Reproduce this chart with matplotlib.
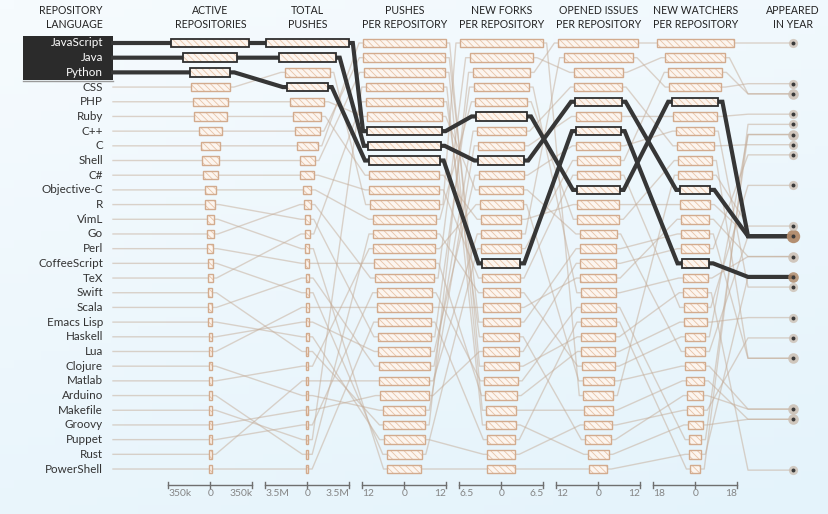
import numpy as np
import matplotlib
matplotlib.use("Agg")
import matplotlib.pyplot as plt
from matplotlib.patches import Rectangle

plt.rcParams['font.family'] = ['Lato', 'DejaVu Sans']
plt.rcParams['hatch.linewidth'] = 0.6

# ---- data ----
languages = ["JavaScript", "Java", "Python", "CSS", "PHP", "Ruby", "C++", "C", "Shell", "C#",
             "Objective-C", "R", "VimL", "Go", "Perl", "CoffeeScript", "TeX", "Swift", "Scala",
             "Emacs Lisp", "Haskell", "Lua", "Clojure", "Matlab", "Arduino", "Makefile", "Groovy",
             "Puppet", "Rust", "PowerShell"]
active_repos = [325, 225, 167, 164, 146, 137, 96, 79, 71, 62,
                46, 42, 30, 29, 25, 19, 18.5, 18, 17.5,
                17, 14, 13.5, 13.2, 13, 12.8, 12.6, 12.4,
                12.2, 12, 11.8]  # thousands
total_pushes = [3.46, 2.37, 1.71, 1.87, 1.42, 1.17, 1.04, 0.875, 0.625, 0.58,
                0.33, 0.21, 0.17, 0.29, 0.15, 0.145, 0.205, 0.1, 0.148,
                0.108, 0.11, 0.125, 0.09, 0.098, 0.075, 0.08, 0.088,
                0.085, 0.095, 0.07]  # millions
pushes_per_repo = [10.65, 10.4, 10.1, 9.9, 10.7, 10.05, 11.7, 11.8, 11.6, 10.0,
                   9.0, 7.55, 4.8, 8.5, 8.7, 5.0, 10.95, 5.95, 7.35,
                   5.9, 7.4, 7.85, 6.0, 8.9, 8.95, 11.0, 7.05,
                   7.9, 7.1, 7.6]
forks_per_repo = [3.98, 3.54, 2.92, 6.4, 3.4, 3.12, 2.88, 2.75, 2.32, 2.91,
                  4.0, 4.3, 2.14, 4.9, 2.45, 3.08, 2.77, 4.45, 3.75,
                  2.15, 3.45, 2.89, 3.56, 3.3, 2.9, 2.3, 2.76,
                  2.6, 3.1, 2.16]
issues_per_repo = [6.1, 6.65, 6.4, 4.3, 5.25, 6.05, 5.2, 4.85, 4.1, 6.15,
                   6.0, 5.0, 2.6, 7.0, 4.8, 6.2, 3.7, 11.4, 6.8,
                   4.0, 6.25, 5.1, 6.5, 4.45, 4.75, 3.0, 5.15,
                   4.98, 9.9, 4.96]
watchers_per_repo = [9.9, 6.45, 5.9, 7.25, 4.3, 6.4, 6.0, 5.15, 3.85, 4.92,
                     7.3, 5.4, 2.6, 12.9, 4.9, 11.6, 3.42, 16.6, 7.9,
                     3.4, 8.1, 6.05, 9.4, 4.28, 4.32, 3.2, 5.95,
                     2.62, 11.2, 2.1]
appeared_year = [1995, 1995, 1991, 1996, 1995, 1995, 1983, 1972, 1977, 2000,
                 1983, 1993, 1991, 2009, 1987, 2009, 1978, 2014, 2004,
                 1985, 1990, 1993, 2007, 1978, 2005, 1977, 2003,
                 2005, 2010, 2006]
highlight = ["JavaScript", "Java", "Python"]

col_titles = [("ACTIVE", "REPOSITORIES"), ("TOTAL", "PUSHES"), ("PUSHES", "PER REPOSITORY"),
              ("NEW FORKS", "PER REPOSITORY"), ("OPENED ISSUES", "PER REPOSITORY"),
              ("NEW WATCHERS", "PER REPOSITORY")]
col_values = [active_repos, total_pushes, pushes_per_repo, forks_per_repo,
              issues_per_repo, watchers_per_repo]
col_tick = [350, 3.5, 12, 6.5, 12, 18]
col_tick_labels = ["350k", "3.5M", "12", "6.5", "12", "18"]

# ---- layout (pixels) ----
W, H = 829, 514
col_x = [210.3, 307.3, 404.3, 501.3, 598.3, 695.3]
half = 42.0
row0, step = 43.0, 14.69
bar_h = 8.5
stub = 4.0
join_x, year_x = 748.0, 793.0
label_x, line_x0 = 103.0, 113.0
y_2014, px_year = 43.0, 10.17

fig = plt.figure(figsize=(W / 100, H / 100), dpi=100)
ax = fig.add_axes([0, 0, 1, 1])
ax.set_xlim(0, W)
ax.set_ylim(H, 0)
ax.axis('off')

# background gradient
gy, gx = np.mgrid[0:1:60j, 0:1:60j]
top = np.array([246, 251, 254]) / 255
bot = np.array([228, 243, 251]) / 255
t = (0.7 * gy + 0.3 * gx)[..., None]
ax.imshow(top * (1 - t) + bot * t, extent=(0, W, H, 0), aspect='auto', zorder=0)

n = len(languages)
ranks = []
for vals in col_values:
    order = sorted(range(n), key=lambda i: -vals[i])
    r = [0] * n
    for k, i in enumerate(order):
        r[i] = k
    ranks.append(r)

def bar_edges(c, i):
    w = col_values[c][i] * half / col_tick[c]
    return col_x[c] - w, col_x[c] + w

# connecting lines
for i, lang in enumerate(languages):
    hl = lang in highlight
    ys = [row0 + ranks[c][i] * step for c in range(6)]
    yr = y_2014 + (2014 - appeared_year[i]) * px_year
    pts = [(line_x0, ys[0])]
    for c in range(6):
        l, r = bar_edges(c, i)
        pts += [(l, ys[c]), (r, ys[c]), (r + stub, ys[c])]
        if c < 5:
            l2, _ = bar_edges(c + 1, i)
            pts.append((l2 - stub, ys[c + 1]))
    pts += [(join_x, yr), (year_x, yr)]
    xs, yy = zip(*pts)
    if hl:
        ax.plot(xs, yy, color='#363636', lw=3, zorder=5, solid_joinstyle='miter')
    else:
        ax.plot(xs, yy, color='#c4ab96', lw=1, alpha=0.5, zorder=2)

# bars
for c in range(6):
    for i, lang in enumerate(languages):
        hl = lang in highlight
        y = row0 + ranks[c][i] * step
        l, r = bar_edges(c, i)
        ax.add_patch(Rectangle((l, y - bar_h / 2), r - l, bar_h, facecolor='#fcf5ef',
                               edgecolor='#e8c3a6', hatch='\\' * 5, lw=0,
                               zorder=7 if hl else 3))
        ax.add_patch(Rectangle((l, y - bar_h / 2), r - l, bar_h, fill=False,
                               edgecolor='#2e2e2e' if hl else '#d2ab8e',
                               lw=1.3 if hl else 1.0, zorder=8 if hl else 4))

# appeared-in-year dots
years = sorted(set(appeared_year))
for yr_val in years:
    members = [languages[i] for i in range(n) if appeared_year[i] == yr_val]
    y = y_2014 + (2014 - yr_val) * px_year
    cnt = len(members)
    rad = 4.6 + 0.7 * (cnt - 1)
    size = (2 * rad * 0.72) ** 2
    color = '#b08a6a' if any(m in highlight for m in members) else '#cbbdb0'
    ax.scatter([year_x], [y], s=size, color=color, alpha=min(0.95, 0.75 + 0.08 * (cnt - 1)),
               lw=0, zorder=6)
    ax.scatter([year_x], [y], s=8, color='#3a3a3a', lw=0, zorder=9)

# language labels
ax.add_patch(Rectangle((23, 35.5), line_x0 - 23, 44.5, facecolor='#2b2b2b',
                       edgecolor='none', zorder=1))
ax.plot([23, line_x0], [80.5, 80.5], color='#9a9a9a', lw=1, zorder=1)
for i, lang in enumerate(languages):
    y = row0 + i * step
    ax.text(label_x, y, lang, ha='right', va='center', fontsize=8.4,
            color='white' if lang in highlight else '#333333', zorder=10)

# headers
ax.text(label_x, 11, "REPOSITORY", ha='right', va='center', fontsize=7.6, color='#222222')
ax.text(label_x, 25, "LANGUAGE", ha='right', va='center', fontsize=7.6, color='#222222')
for c, (t1, t2) in enumerate(col_titles):
    ax.text(col_x[c], 11, t1, ha='center', va='center', fontsize=7.6, color='#222222')
    ax.text(col_x[c], 25, t2, ha='center', va='center', fontsize=7.6, color='#222222')
ax.text(year_x, 11, "APPEARED", ha='center', va='center', fontsize=7.6, color='#222222')
ax.text(year_x, 25, "IN YEAR", ha='center', va='center', fontsize=7.6, color='#222222')

# bottom scales
for c in range(6):
    cx = col_x[c]
    ax.plot([cx - half, cx + half], [484.5, 484.5], color='#6f6f6f', lw=1, zorder=3)
    for dx in (-half, 0, half):
        ax.plot([cx + dx, cx + dx], [482, 487.5], color='#6f6f6f', lw=1, zorder=3)
    ax.text(cx - half, 494, col_tick_labels[c], ha='left', va='center', fontsize=7.4, color='#858585')
    ax.text(cx, 494, "0", ha='center', va='center', fontsize=7.4, color='#858585')
    ax.text(cx + half, 494, col_tick_labels[c], ha='right', va='center', fontsize=7.4, color='#858585')

fig.savefig("out.png", dpi=100)
